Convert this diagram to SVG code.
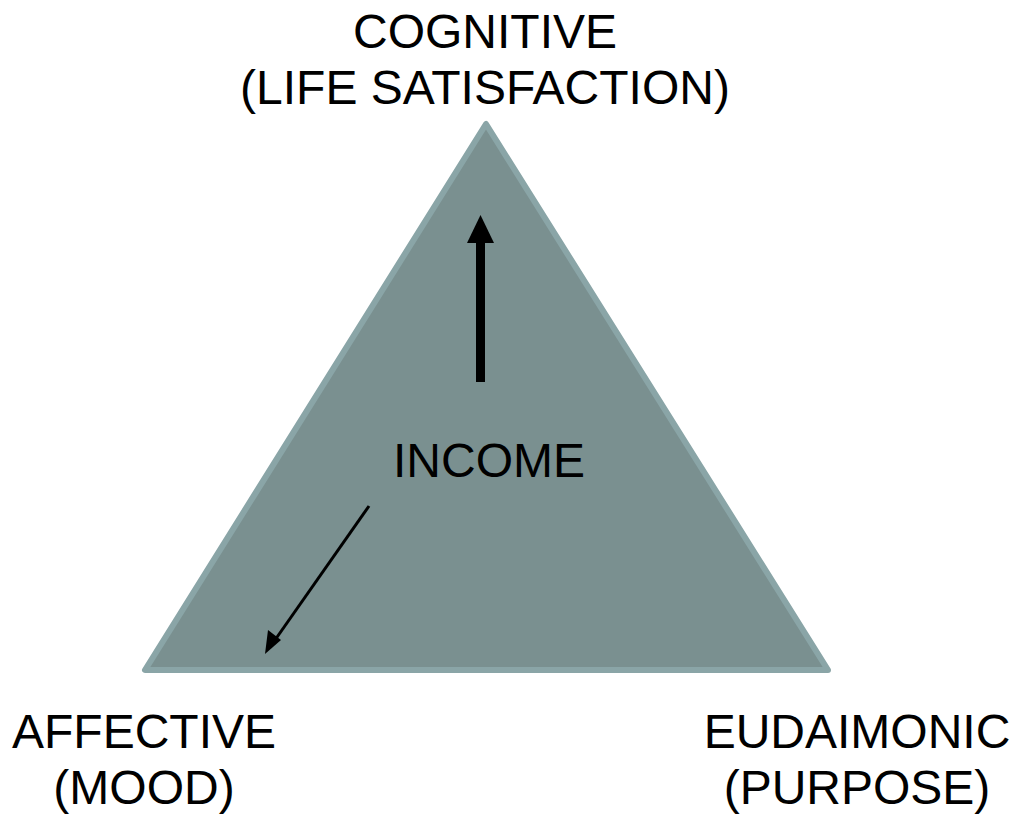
<svg xmlns="http://www.w3.org/2000/svg" width="1014" height="818" viewBox="0 0 1014 818">
<style>
.lbl{font-family:"Liberation Sans",Arial,sans-serif;font-size:48px;fill:#000;text-anchor:middle}
</style>
<rect width="1014" height="818" fill="#fff"/>
<g id="triangle">
<polygon points="486,124 145,670 828,670" fill="#7a9090" stroke="#8aa5a7" stroke-width="6" stroke-linejoin="round"/>
</g>
<g id="connectors">
<rect x="476" y="242" width="9" height="140" fill="#000"/>
<polygon points="480.5,215 467,243 494,243" fill="#000"/>
<line x1="369" y1="506" x2="275" y2="640" stroke="#000" stroke-width="3"/>
<polygon points="265,654 268,630 281,640" fill="#000"/>
</g>
<g id="cognitive">
<text class="lbl" x="485" y="48">COGNITIVE</text>
<text class="lbl" x="485" y="104">(LIFE SATISFACTION)</text>
</g>
<g id="income">
<text class="lbl" x="489" y="477">INCOME</text>
</g>
<g id="affective">
<text class="lbl" x="144" y="748">AFFECTIVE</text>
<text class="lbl" x="144" y="804">(MOOD)</text>
</g>
<g id="eudaimonic">
<text class="lbl" x="857" y="748">EUDAIMONIC</text>
<text class="lbl" x="857" y="804">(PURPOSE)</text>
</g>
</svg>
